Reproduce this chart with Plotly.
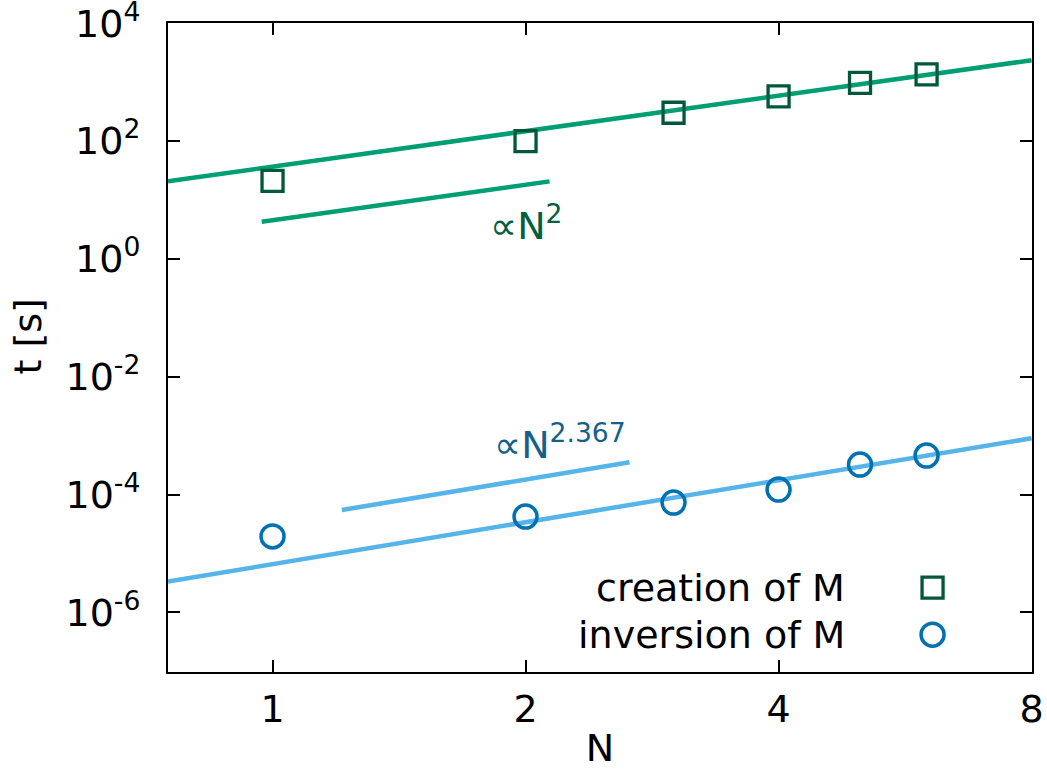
import numpy as np
import plotly.graph_objects as go

# ---- data ----
N_points = [1, 2, 3, 4, 5, 6]
t_creation = [21.1, 100, 303, 574, 973, 1356]
t_inversion = [1.95e-5, 4.25e-5, 7.35e-5, 1.22e-4, 3.24e-4, 4.6e-4]

# power-law fit lines t = coef * N**exp
fit_creation_coef, fit_creation_exp = 36.9, 2.0
fit_inversion_coef, fit_inversion_exp = 6.6e-6, 2.367
fit_N_range = [0.751, 8.0]

# guide lines with the same slopes
guide_creation_coef, guide_creation_N = 4.55, [0.971, 2.136]
guide_inversion_coef, guide_inversion_N = 3.5e-5, [1.209, 2.659]

x_ticks = [1, 2, 4, 8]
y_tick_exps = [-6, -4, -2, 0, 2, 4]

FONT = "DejaVu Sans"
GREEN_LINE = "#009e73"
GREEN_DARK = "#00573a"
GREEN_TEXT = "#006040"
BLUE_LINE = "#56b4e9"
BLUE_DARK = "#0072b2"
BLUE_TEXT = "#155f8c"


def power(coef, exp, Ns):
    Ns = np.asarray(Ns, dtype=float)
    return coef * Ns ** exp


fig = go.Figure()

fig.add_trace(go.Scatter(x=fit_N_range, y=power(fit_creation_coef, fit_creation_exp, fit_N_range),
                         mode="lines", line=dict(color=GREEN_LINE, width=4.5), showlegend=False))
fig.add_trace(go.Scatter(x=guide_creation_N, y=power(guide_creation_coef, fit_creation_exp, guide_creation_N),
                         mode="lines", line=dict(color=GREEN_LINE, width=4.5), showlegend=False))
fig.add_trace(go.Scatter(x=fit_N_range, y=power(fit_inversion_coef, fit_inversion_exp, fit_N_range),
                         mode="lines", line=dict(color=BLUE_LINE, width=4.5), showlegend=False))
fig.add_trace(go.Scatter(x=guide_inversion_N, y=power(guide_inversion_coef, fit_inversion_exp, guide_inversion_N),
                         mode="lines", line=dict(color=BLUE_LINE, width=4.5), showlegend=False))

fig.add_trace(go.Scatter(x=N_points, y=t_creation, mode="markers", name="creation of M",
                         marker=dict(symbol="square-open", size=21, color=GREEN_DARK,
                                     line=dict(width=3.3, color=GREEN_DARK)),
                         showlegend=False))
fig.add_trace(go.Scatter(x=N_points, y=t_inversion, mode="markers", name="inversion of M",
                         marker=dict(symbol="circle-open", size=23, color=BLUE_DARK,
                                     line=dict(width=3.5, color=BLUE_DARK)),
                         showlegend=False))

annotations = [
    dict(x=np.log10(2.003), y=0.603, xref="x", yref="y", text="∝N<sup>2</sup>",
         showarrow=False, font=dict(family=FONT, size=38, color=GREEN_TEXT),
         xanchor="center", yanchor="middle"),
    dict(x=np.log10(2.198), y=-3.099, xref="x", yref="y", text="∝N<sup>2.367</sup>",
         showarrow=False, font=dict(family=FONT, size=38, color=BLUE_TEXT),
         xanchor="center", yanchor="middle"),
    # legend text
    dict(x=0.786, y=0.130, xref="paper", yref="paper", text="creation of M",
         showarrow=False, font=dict(family=FONT, size=38, color="black"),
         xanchor="right", yanchor="middle"),
    dict(x=0.786, y=0.0575, xref="paper", yref="paper", text="inversion of M",
         showarrow=False, font=dict(family=FONT, size=38, color="black"),
         xanchor="right", yanchor="middle"),
    # y-axis title
    dict(x=-0.162, y=0.517, xref="paper", yref="paper", text="t [s]", textangle=-90,
         showarrow=False, font=dict(family=FONT, size=38, color="black"),
         xanchor="center", yanchor="middle"),
]

shapes = [
    dict(type="rect", xref="paper", yref="paper", xsizemode="pixel", ysizemode="pixel",
         xanchor=0.8849, yanchor=0.130, x0=-10.5, x1=10.5, y0=-10.5, y1=10.5,
         line=dict(color=GREEN_DARK, width=3.3)),
    dict(type="circle", xref="paper", yref="paper", xsizemode="pixel", ysizemode="pixel",
         xanchor=0.8849, yanchor=0.0575, x0=-11.5, x1=11.5, y0=-11.5, y1=11.5,
         line=dict(color=BLUE_DARK, width=3.5)),
]

fig.update_layout(
    width=1047, height=770,
    margin=dict(l=168, r=15, t=23, b=98),
    paper_bgcolor="white", plot_bgcolor="white",
    font=dict(family=FONT, size=38, color="black"),
    annotations=annotations, shapes=shapes,
    showlegend=False,
)

fig.update_xaxes(
    type="log", range=[np.log10(fit_N_range[0]), np.log10(fit_N_range[1]) + 0.0005],
    tickvals=x_ticks, ticktext=[str(v) for v in x_ticks],
    ticks="inside", ticklen=12, tickwidth=1.5, tickcolor="black",
    showline=True, linewidth=2, linecolor="black", mirror="ticks",
    showgrid=False, zeroline=False, automargin=False,
    tickfont=dict(family=FONT, size=38), ticklabeloverflow="allow",
    title=dict(text="N", font=dict(family=FONT, size=38), standoff=8),
    ticklabelstandoff=2,
)

fig.update_yaxes(
    type="log", range=[-7.01, 4.005],
    tickvals=[10.0 ** e for e in y_tick_exps],
    ticktext=[f"10<sup>{e}</sup>" for e in y_tick_exps],
    ticks="inside", ticklen=12, tickwidth=1.5, tickcolor="black",
    showline=True, linewidth=2, linecolor="black", mirror="ticks",
    showgrid=False, zeroline=False, automargin=False,
    tickfont=dict(family=FONT, size=38), ticklabeloverflow="allow",
    ticklabelstandoff=18,
)

fig.write_html(
    "out.html",
    config={"displayModeBar": False},
    post_script="document.body.style.margin='0';document.body.style.padding='0';"
                "document.body.style.overflow='hidden';",
)
